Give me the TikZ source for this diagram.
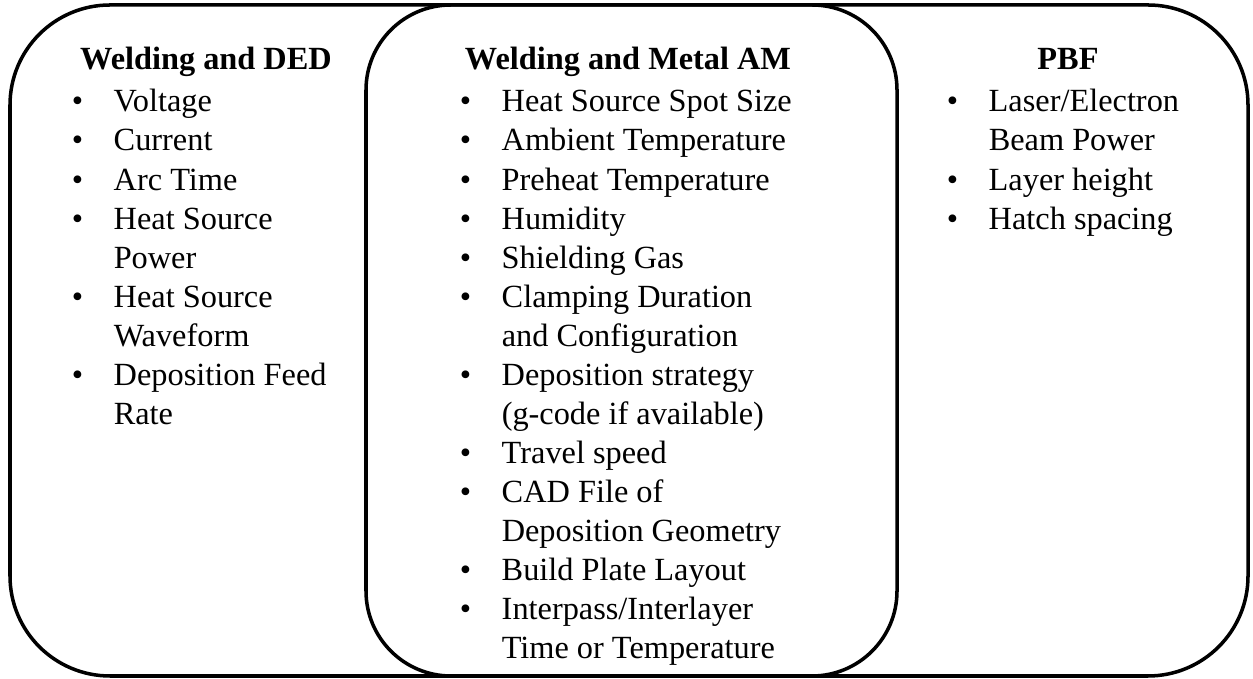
\documentclass[tikz,border=0pt]{standalone}
\usepackage{fontspec}
\setmainfont{Liberation Serif}
\newcommand{\bodysize}{\fontsize{18.4}{22.2}\selectfont}
\newcommand{\bul}{\textbullet}
\tikzset{
  head/.style={font=\bodysize\bfseries, anchor=base, inner sep=0pt},
  itemlist/.style={font=\bodysize, anchor=base west, inner sep=0pt}
}
\begin{document}
\begin{tikzpicture}[line width=2pt]
\useasboundingbox (0,0) rectangle (25.06,13.58);
\draw[rounded corners=2cm] (0.2,0.06) rectangle (24.96,13.48);
\draw[rounded corners=1.7cm] (7.32,0.06) rectangle (17.94,13.48);
\node[head] (dedhead) at (4.12,12.18) {Welding and DED};
\node[head] (amhead) at (12.56,12.18) {Welding and Metal AM};
\node[head] (pbfhead) at (21.36,12.18) {PBF};
\node[itemlist] (dedlist) at (1.4,11.34) {\begin{tabular}[t]{@{}p{0.84cm}@{}l@{}}
\bul & Voltage\\
\bul & Current\\
\bul & Arc Time\\
\bul & Heat Source\\
     & Power\\
\bul & Heat Source\\
     & Waveform\\
\bul & Deposition Feed\\
     & Rate
\end{tabular}};
\node[itemlist] (amlist) at (9.16,11.34) {\begin{tabular}[t]{@{}p{0.84cm}@{}l@{}}
\bul & Heat Source Spot Size\\
\bul & Ambient Temperature\\
\bul & Preheat Temperature\\
\bul & Humidity\\
\bul & Shielding Gas\\
\bul & Clamping Duration\\
     & and Configuration\\
\bul & Deposition strategy\\
     & (g-code if available)\\
\bul & Travel speed\\
\bul & CAD File of\\
     & Deposition Geometry\\
\bul & Build Plate Layout\\
\bul & Interpass/Interlayer\\
     & Time or Temperature
\end{tabular}};
\node[itemlist] (pbflist) at (18.9,11.34) {\begin{tabular}[t]{@{}p{0.84cm}@{}l@{}}
\bul & Laser/Electron\\
     & Beam Power\\
\bul & Layer height\\
\bul & Hatch spacing
\end{tabular}};
\end{tikzpicture}
\end{document}
